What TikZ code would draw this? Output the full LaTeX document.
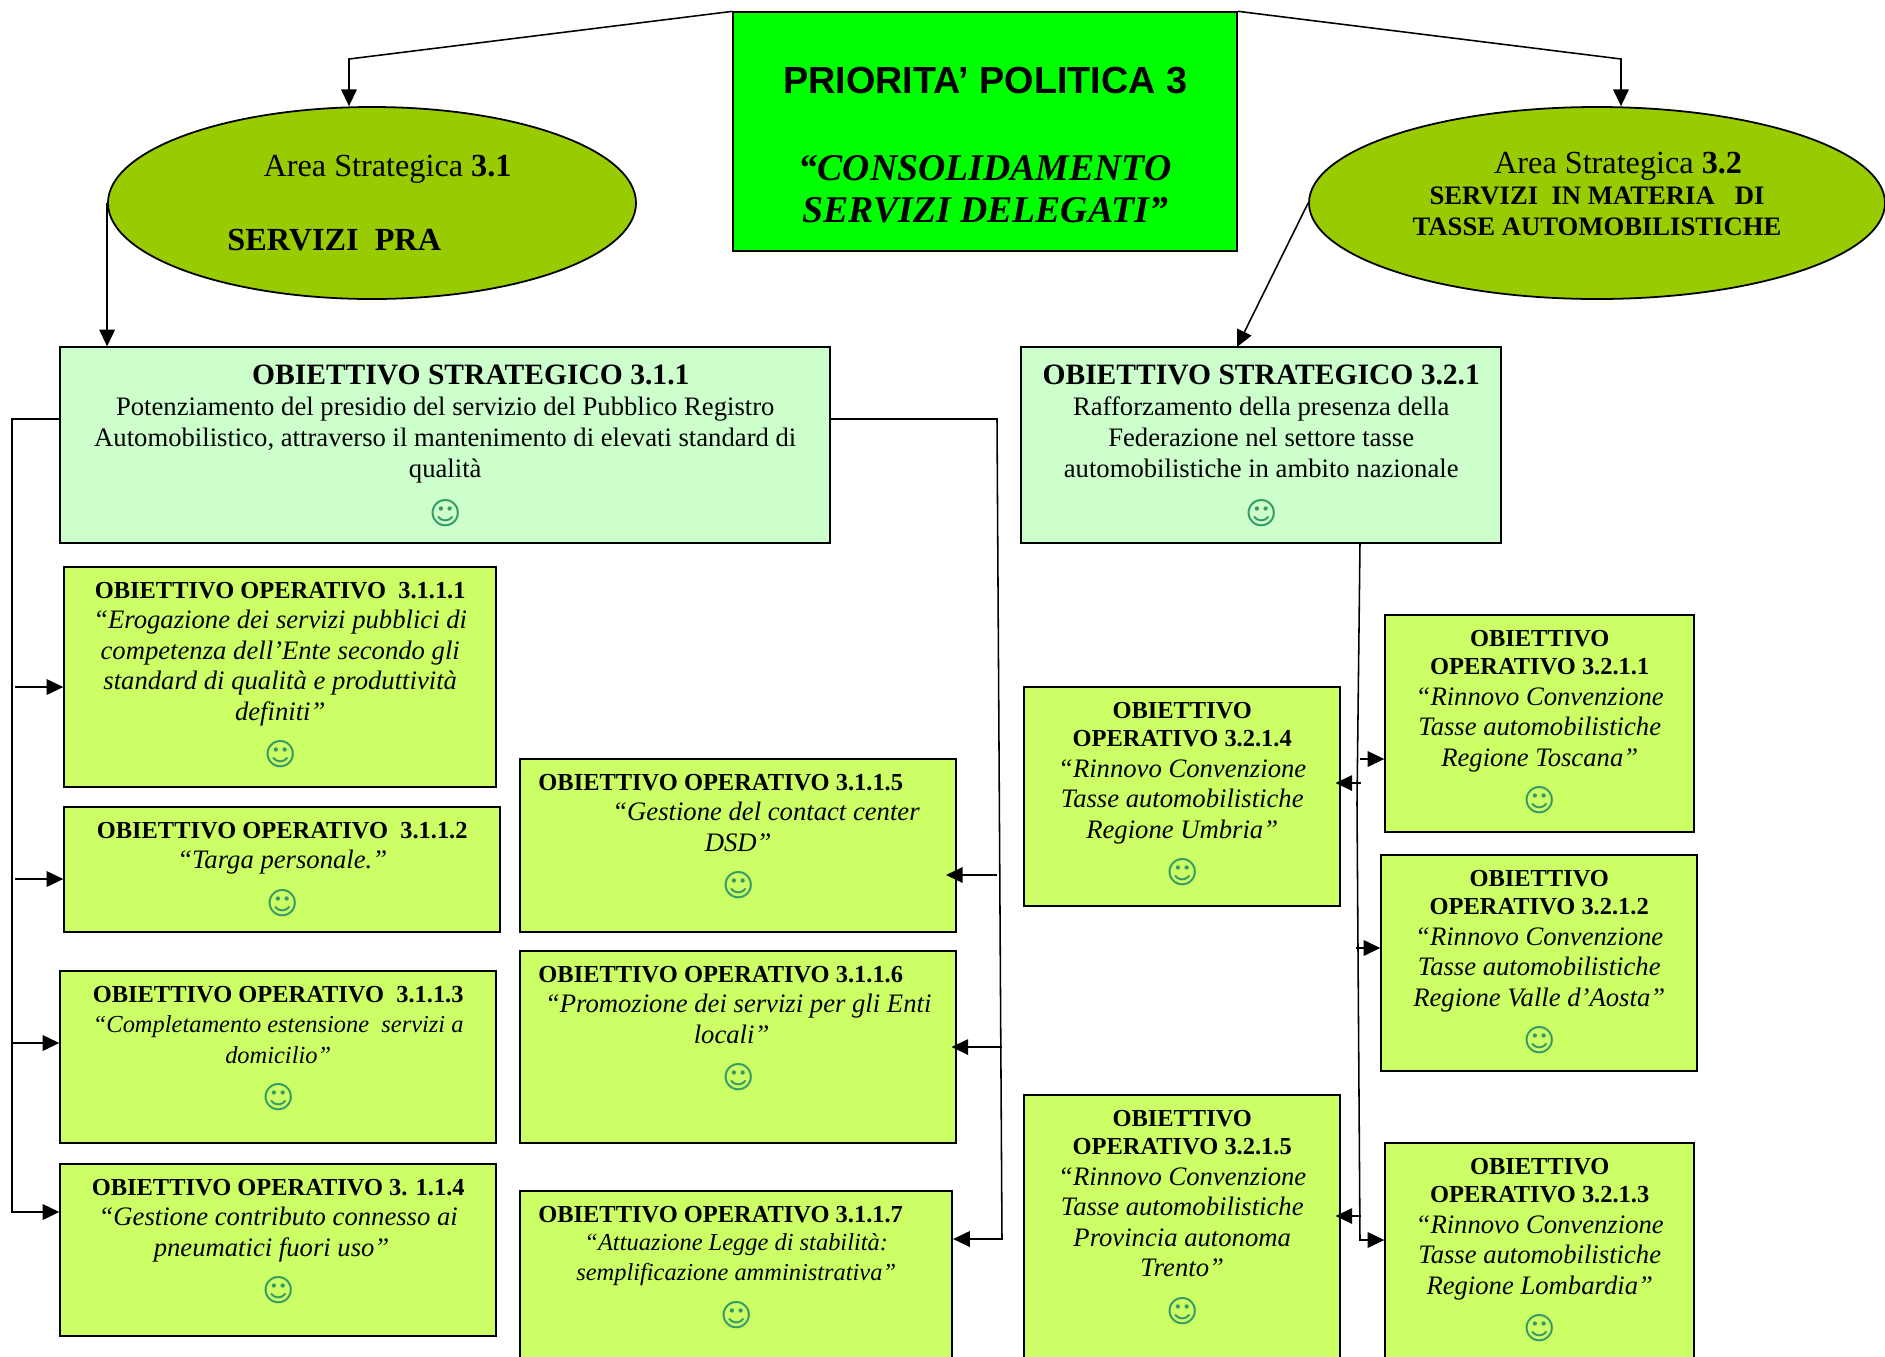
\documentclass[tikz,border=0pt]{standalone}
\usepackage{fontspec}
\setmainfont{Liberation Serif}
\newfontfamily\titlefont{Liberation Sans}
\newfontfamily\smfont{DejaVu Sans}
\usepackage{xcolor}
\usepackage{tikz}
\usetikzlibrary{arrows.meta, shapes.geometric}
\definecolor{prioritycol}{HTML}{00FF00}
\definecolor{areacol}{HTML}{99CC00}
\definecolor{stratcol}{HTML}{CCFFCC}
\definecolor{opcol}{HTML}{CCFF66}
\definecolor{smilecol}{HTML}{339966}
\newcommand{\smiley}{\\[6.8pt]{\fontsize{14}{13.7}\smfont\textcolor{smilecol}{\smash{☺}}}}
\newcommand{\ophead}[1]{{\bfseries\fontsize{11}{13.7}\selectfont #1}}
\tikzstyle{arrow} = [line width=0.7pt,-{Triangle[length=7.5pt,width=7pt]}]
\tikzstyle{arrowin} = [arrow, shorten >=-2.5pt]
\tikzset{
  sized/.style 2 args={draw=black, line width=0.8pt, anchor=north west, inner sep=0pt,
    xshift=-0.3pt, yshift=0.3pt, font=\fontsize{12}{13.7}\selectfont,
    execute at begin node={\begin{minipage}[c][\dimexpr #2pt*45/100\relax][t]{\dimexpr #1pt*45/100\relax}\centering\vspace*{6.8pt}},
    execute at end node={\end{minipage}}},
  prioritybox/.style 2 args={sized={#1}{#2}, fill=prioritycol},
  stratbox/.style 2 args={sized={#1}{#2}, fill=stratcol, font=\fontsize{12}{14}\selectfont},
  opbox/.style 2 args={sized={#1}{#2}, fill=opcol},
  areaell/.style={ellipse, draw=black, line width=0.8pt, fill=areacol, inner sep=0pt,
    minimum width=528*0.45pt, minimum height=192*0.45pt, align=center,
    font=\fontsize{14.5}{16}\selectfont},
}
\begin{document}
\begin{tikzpicture}[x=0.45pt,y=-0.45pt]
\path[use as bounding box, clip] (0,0) rectangle (1885,1356);
\fill[white] (0,0) rectangle (1885,1356);

% Draw the priority box and the two areas
\node[prioritybox={504}{239}] (prio) at (733,12) {\vspace*{18pt}%
  {\titlefont\bfseries\fontsize{17}{19}\selectfont PRIORITA’ POLITICA 3}\\[20pt]
  {\bfseries\itshape\fontsize{17}{19}\selectfont “CONSOLIDAMENTO\\[5.2pt]SERVIZI DELEGATI”}};
\node[areaell] (area1) at (372,203) {\hspace*{14pt}Area Strategica \textbf{3.1}\\[17.5pt]
  \textbf{SERVIZI\ \ PRA}\hspace*{34pt}};
\node[areaell, minimum width=576*0.45pt] (area2) at (1597,203) {\hspace*{19pt}Area Strategica \textbf{3.2}\\[-2pt]
  \textbf{\fontsize{12}{13.7}\selectfont SERVIZI\ \ IN MATERIA\ \ \ DI}\\[-2pt]
  \textbf{\fontsize{12}{13.7}\selectfont TASSE AUTOMOBILISTICHE}\\[-7.6pt]\mbox{}};

% Draw the strategic objectives
\node[stratbox={770}{196}] (st1) at (60,347) {\vspace*{1.2pt}%
  {\bfseries\fontsize{13.3}{16}\selectfont\hspace*{23pt}OBIETTIVO STRATEGICO 3.1.1}\\
  Potenziamento del presidio del servizio del Pubblico Registro\\
  Automobilistico, attraverso il mantenimento di elevati standard di\\
  qualità\smiley};
\node[stratbox={480}{196}] (st2) at (1021,347) {\vspace*{1.2pt}%
  {\bfseries\fontsize{13.3}{16}\selectfont OBIETTIVO STRATEGICO 3.2.1}\\
  Rafforzamento della presenza della\\
  Federazione nel settore tasse\\
  automobilistiche in ambito nazionale\smiley};

% Draw the operational objectives of 3.1.1
\node[opbox={432}{220}] (o311) at (64,567) {\ophead{OBIETTIVO OPERATIVO\ \ 3.1.1.1}\\
  {\itshape “Erogazione dei servizi pubblici di\\competenza dell’Ente secondo gli\\
  standard di qualità e produttività\\definiti”}\smiley};
\node[opbox={436}{125}] (o312) at (64,807) {\ophead{OBIETTIVO OPERATIVO\ \ 3.1.1.2}\\
  {\itshape “Targa personale.”}\smiley};
\node[opbox={436}{172}] (o313) at (60,971) {\ophead{OBIETTIVO OPERATIVO\ \ 3.1.1.3}\\
  {\itshape\fontsize{11}{13.7}\selectfont “Completamento estensione\ \ servizi a\\domicilio”}\smiley};
\node[opbox={436}{172}] (o314) at (60,1164) {\ophead{OBIETTIVO OPERATIVO 3. 1.1.4}\\
  {\itshape “Gestione contributo connesso ai\\pneumatici fuori uso”\hspace*{6pt}\mbox{}}\smiley};
\node[opbox={436}{173}] (o315) at (520,759) {\ophead{OBIETTIVO OPERATIVO 3.1.1.5}\hspace*{15.7pt}\mbox{}\\
  {\itshape\hspace*{25pt}“Gestione del contact center\\DSD”}\smiley};
\node[opbox={436}{192}] (o316) at (520,951) {\ophead{OBIETTIVO OPERATIVO 3.1.1.6}\hspace*{15.7pt}\mbox{}\\
  {\itshape “Promozione dei servizi per gli Enti\\locali”\hspace*{6pt}\mbox{}}\smiley};
\node[opbox={432}{250}] (o317) at (520,1191) {\ophead{OBIETTIVO OPERATIVO 3.1.1.7}\hspace*{14pt}\mbox{}\\
  {\itshape\fontsize{11}{12.6}\selectfont “Attuazione Legge di stabilità:\\semplificazione amministrativa”}\smiley};

% Draw the operational objectives of 3.2.1
\node[opbox={309}{217}] (o3211) at (1385,615) {\ophead{OBIETTIVO}\\[-1pt]\ophead{OPERATIVO 3.2.1.1}\\
  {\itshape “Rinnovo Convenzione\\Tasse automobilistiche\\Regione Toscana”}\smiley};
\node[opbox={316}{216}] (o3212) at (1381,855) {\ophead{OBIETTIVO}\\[-1pt]\ophead{OPERATIVO 3.2.1.2}\\
  {\itshape “Rinnovo Convenzione\\Tasse automobilistiche\\Regione Valle d’Aosta”}\smiley};
\node[opbox={309}{250}] (o3213) at (1385,1143) {\ophead{OBIETTIVO}\\[-1pt]\ophead{OPERATIVO 3.2.1.3}\\
  {\itshape “Rinnovo Convenzione\\Tasse automobilistiche\\Regione Lombardia”}\smiley};
\node[opbox={316}{219}] (o3214) at (1024,687) {\ophead{OBIETTIVO}\\[-1pt]\ophead{OPERATIVO 3.2.1.4}\\
  {\itshape “Rinnovo Convenzione\\Tasse automobilistiche\\Regione Umbria”}\smiley};
\node[opbox={316}{300}] (o3215) at (1024,1095) {\ophead{OBIETTIVO}\\[-1pt]\ophead{OPERATIVO 3.2.1.5}\\
  {\itshape “Rinnovo Convenzione\\Tasse automobilistiche\\Provincia autonoma\\Trento”}\smiley};

% Bends and free ends of the connectors
\coordinate (topl) at (349,59);
\coordinate (topr) at (1621,59);
\coordinate (areab) at (1237,347);
\coordinate (busla) at (12,419);
\coordinate (buslb) at (12,1212);
\coordinate (bl1) at (15,687);
\coordinate (bl2) at (15,879);
\coordinate (bl3) at (12,1043);
\coordinate (busra) at (997,419);
\coordinate (busrb) at (1002,1239);
\coordinate (br5) at (997,875);
\coordinate (br6) at (1002,1047);
\coordinate (busca) at (1360,543);
\coordinate (buscb) at (1357,803);
\coordinate (buscc) at (1360,1240);
\coordinate (bc1) at (1360,759);
\coordinate (bc2) at (1356,948);
\coordinate (bc4) at (1361,783);
\coordinate (bc5) at (1361,1216);

% Draw the connectors
\draw[arrow] (prio.north west) -- (topl) -- (topl |- area1.north);
\draw[arrow] (prio.north east) -- (topr) -- (topr |- area2.north);
\draw[arrow] (area1.west) -- (area1.west |- st1.north);
\draw[arrow] (area2.west) -- (areab);
\draw[arrow] (busla -| st1.west) -- (busla) -- (buslb) -- (buslb -| o314.west);
\draw[arrow] (bl1) -- (bl1 -| o311.west);
\draw[arrow] (bl2) -- (bl2 -| o312.west);
\draw[arrow] (bl3) -- (bl3 -| o313.west);
\draw[arrow] (busra -| st1.east) -- (busra) -- (busrb) -- (busrb -| o317.east);
\draw[arrowin, shorten >=-5pt] (br5) -- (br5 -| o315.east);
\draw[arrowin] (br6) -- (br6 -| o316.east);
\draw[arrow] (busca) -- (buscb) -- (buscc) -- (buscc -| o3213.west);
\draw[arrow] (bc1) -- (bc1 -| o3211.west);
\draw[arrow] (bc2) -- (bc2 -| o3212.west);
\draw[arrowin] (bc4) -- (bc4 -| o3214.east);
\draw[arrowin] (bc5) -- (bc5 -| o3215.east);
\end{tikzpicture}
\end{document}
